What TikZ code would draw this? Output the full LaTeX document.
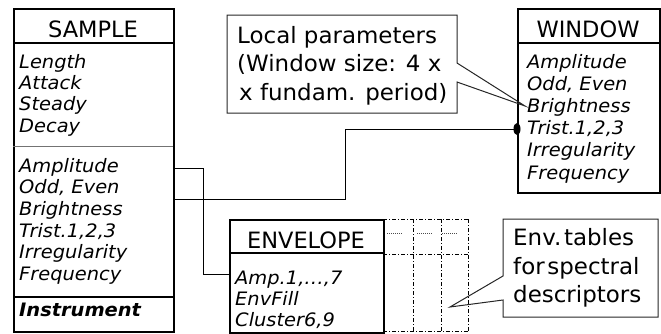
\documentclass[tikz,border=0pt]{standalone}
\usepackage{fontspec}
\setmainfont{DejaVu Sans}
\newfontfamily\bodyfont{DejaVu Sans}[FakeStretch=1.05]
\newfontfamily\notefont{DejaVu Sans}[FakeStretch=1.02]
\begin{document}
\begin{tikzpicture}[x=1pt,y=-1pt,
  box/.style={draw=black,line width=1.8pt,inner sep=0pt,anchor=north west},
  sep/.style={line width=1.8pt},
  thinsep/.style={line width=1pt,draw=black!55},
  ttl/.style={font=\fontsize{22.5}{27}\selectfont,inner sep=0pt,anchor=base},
  itm/.style={font=\bodyfont\fontsize{18.5}{22}\selectfont\itshape,inner sep=0pt,anchor=base west},
  conn/.style={line width=1pt,draw=black},
  note/.style={draw=black!85,line width=1pt},
  notetxt/.style={font=\notefont\fontsize{22.5}{27}\selectfont,inner sep=0pt,anchor=base west},
  ghost/.style={line width=1pt,dash pattern=on 4pt off 2pt on 1pt off 2pt},
  ghostdot/.style={line width=0.8pt,dash pattern=on 1pt off 1pt,draw=black!70}]
\useasboundingbox (0,0) rectangle (661,333);

% ---------- SAMPLE ----------
\node[box,minimum width=160pt,minimum height=323pt] (sample) at (13,8) {};
\draw[sep] (13,43) -- (173,43);
\draw[thinsep] (13,146) -- (173,146);
\draw[line width=1.2pt] (13,297) -- (173,297);
\node[ttl] (sampleT) at (93,37) {SAMPLE};
\node[itm] (s1) at (19,68) {Length};
\node[itm] (s2) at (19,89.3) {Attack};
\node[itm] (s3) at (19,110.6) {Steady};
\node[itm] (s4) at (19,132) {Decay};
\node[itm] (s5) at (19,172) {Amplitude};
\node[itm] (s6) at (19,193.7) {Odd, Even};
\node[itm] (s7) at (19,215.3) {Brightness};
\node[itm] (s8) at (19,237) {Trist.1,2,3};
\node[itm] (s9) at (19,258.7) {Irregularity};
\node[itm] (s10) at (19,280.3) {Frequency};
\node[itm,font=\bodyfont\fontsize{18.5}{22}\selectfont\bfseries\itshape] (s11) at (19,316) {Instrument};

% ---------- WINDOW ----------
\node[box,minimum width=142pt,minimum height=184pt] (window) at (517,8) {};
\draw[sep] (517,43) -- (659,43);
\node[ttl] (windowT) at (588,37) {WINDOW};
\node[itm] (w1) at (527,68) {Amplitude};
\node[itm] (w2) at (527,90.2) {Odd, Even};
\node[itm] (w3) at (527,112.4) {Brightness};
\node[itm] (w4) at (527,134.6) {Trist.1,2,3};
\node[itm] (w5) at (527,156.8) {Irregularity};
\node[itm] (w6) at (527,179) {Frequency};

% ---------- ENVELOPE ----------
\node[box,minimum width=154pt,minimum height=113pt] (envelope) at (229,219) {};
\draw[sep] (229,253) -- (383,253);
\node[ttl] (envT) at (306,248) {ENVELOPE};
\node[itm] (e1) at (235,284.5) {Amp.1,\ldots,7};
\node[itm] (e2) at (235,305.5) {EnvFill};
\node[itm] (e3) at (235,326.5) {Cluster6,9};

% ghost envelope tables
\draw[ghost] (383,219) -- (468,219);
\draw[ghost] (383,254) -- (468,254);
\draw[ghost] (383,331) -- (468,331);
\draw[ghost] (413,219) -- (413,331);
\draw[ghost] (441,219) -- (441,331);
\draw[ghost] (468,219) -- (468,331);
\draw[ghostdot] (387,233) -- (402,233);
\draw[ghostdot] (417,233) -- (432,233);
\draw[ghostdot] (442,233) -- (458,233);

% ---------- connectors ----------
\coordinate (k1) at (203,168);
\coordinate (k2) at (0,274);
\draw[conn] (sample.east |- k1) -- (k1) |- (envelope.west |- k2);
\coordinate (k3) at (345,129);
\coordinate (k4) at (0,199);
\draw[conn] (window.west |- k3) -- (k3) |- (sample.east |- k4);
\fill (window.west |- k3) ellipse (3.5 and 6);

% ---------- callouts ----------
\coordinate (tip1) at (525,106);
\draw[note] (227,15) -- (457,15) -- (457,63) -- (tip1) -- (457,82) -- (457,113) -- (227,113) -- cycle;
\node[notetxt] (n1) at (237,43) {Local parameters};
\node[notetxt] (n2) at (237,71.5) {(Window size: 4 x};
\node[notetxt] (n3) at (239,100) {x fundam. period)};

\coordinate (tip2) at (450,307);
\draw[note] (503,219) -- (658,219) -- (658,317) -- (503,317) -- (503,300) -- (tip2) -- (503,276) -- cycle;
\node[notetxt] (m1) at (513,245) {Env.\hspace{0.12em}tables};
\node[notetxt] (m2) at (513,274) {for\hspace{0.12em}spectral};
\node[notetxt] (m3) at (513,302) {descriptors};
\end{tikzpicture}
\end{document}
